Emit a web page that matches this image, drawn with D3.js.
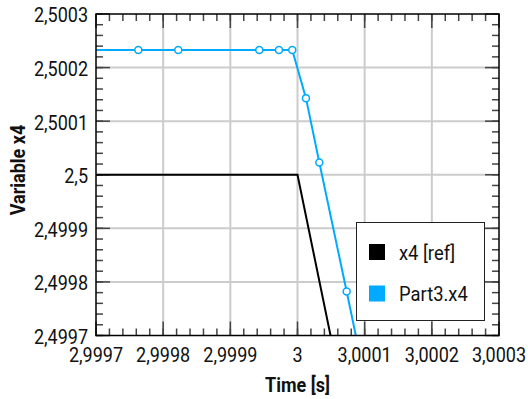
<!DOCTYPE html>
<html>
<head>
<meta charset="utf-8">
<script src="https://cdn.jsdelivr.net/npm/d3@7"></script>
<style>
  html, body { margin: 0; padding: 0; background: #fff; }
  svg { display: block; font-family: Roboto, "Noto Sans", sans-serif; }
</style>
</head>
<body>
<svg id="chart" width="528" height="399"></svg>
<script>
// ---- data ----
const seriesNames = ["x4 [ref]", "Part3.x4"];
const seriesColors = ["#000000", "#00aaff"];
const refTime = [2.9996, 3.0, 3.0001];
const refValue = [2.5, 2.5, 2.49939];
const partTime = [2.99969, 2.999763, 2.9998225, 2.9999431, 2.9999724, 2.9999922, 3.0000126, 3.0000325, 3.0000732, 3.0000935];
const partValue = [2.500233, 2.500233, 2.500233, 2.500233, 2.500233, 2.500233, 2.500143, 2.500023, 2.499782, 2.49966];
const xDomain = [2.9997, 3.0003];
const yDomain = [2.4997, 2.5003];
const xTitle = "Time [s]";
const yTitle = "Variable x4";

// ---- layout ----
const L = 96, T = 14, R = 499, B = 335.5;
const svg = d3.select("#chart");
const x = d3.scaleLinear().domain(xDomain).range([L, R]);
const y = d3.scaleLinear().domain(yDomain).range([B, T]);
const loc = d3.formatLocale({decimal: ",", thousands: ".", grouping: [3], currency: ["", ""]});
const fmt = loc.format(".5~f");

const xMajor = x.ticks(6), yMajor = y.ticks(6);
const xMinor = x.ticks(30), yMinor = y.ticks(30);

// condensed look: measure width at base size, then enlarge keeping width
function condense(sel, bigSize, factor) {
  sel.each(function () {
    const w = this.getComputedTextLength() * (factor || 1);
    d3.select(this).attr("font-size", bigSize).attr("textLength", w).attr("lengthAdjust", "spacingAndGlyphs");
  });
}

// grid
const grid = svg.append("g").attr("stroke", "#cccccc").attr("stroke-width", 2);
grid.selectAll(".gx").data(xMajor.slice(1, -1)).join("line")
  .attr("x1", d => x(d)).attr("x2", d => x(d)).attr("y1", T).attr("y2", B);
grid.selectAll(".gy").data(yMajor.slice(1, -1)).join("line")
  .attr("y1", d => y(d)).attr("y2", d => y(d)).attr("x1", L).attr("x2", R);

// ticks (inward on all sides)
const tk = svg.append("g").attr("stroke", "#444").attr("stroke-width", 1.5);
function vt(vals, len) {
  vals.forEach(d => {
    tk.append("line").attr("x1", x(d)).attr("x2", x(d)).attr("y1", B).attr("y2", B - len);
    tk.append("line").attr("x1", x(d)).attr("x2", x(d)).attr("y1", T).attr("y2", T + len);
  });
}
function ht(vals, len) {
  vals.forEach(d => {
    tk.append("line").attr("y1", y(d)).attr("y2", y(d)).attr("x1", L).attr("x2", L + len);
    tk.append("line").attr("y1", y(d)).attr("y2", y(d)).attr("x1", R).attr("x2", R - len);
  });
}
vt(xMinor, 7); ht(yMinor, 7);
vt(xMajor, 14); ht(yMajor, 14);

// clip
svg.append("defs").append("clipPath").attr("id", "clip")
  .append("rect").attr("x", L).attr("y", T).attr("width", R - L).attr("height", B - T);
const plot = svg.append("g").attr("clip-path", "url(#clip)");

const line = d3.line().x(d => x(d[0])).y(d => y(d[1]));
const refData = refTime.map((t, i) => [t, refValue[i]]);
const partData = partTime.map((t, i) => [t, partValue[i]]);

plot.append("path").datum(refData).attr("d", line)
  .attr("fill", "none").attr("stroke", seriesColors[0]).attr("stroke-width", 2);
plot.append("path").datum(partData).attr("d", line)
  .attr("fill", "none").attr("stroke", seriesColors[1]).attr("stroke-width", 2);
plot.selectAll(".pt").data(partData).join("circle")
  .attr("cx", d => x(d[0])).attr("cy", d => y(d[1])).attr("r", 3.5)
  .attr("fill", "#fff").attr("stroke", seriesColors[1]).attr("stroke-width", 1.5);

// frame
svg.append("rect").attr("x", L).attr("y", T).attr("width", R - L).attr("height", B - T)
  .attr("fill", "none").attr("stroke", "#000").attr("stroke-width", 1.5);

// tick labels
const xl = svg.append("g").selectAll("text").data(xMajor).join("text")
  .attr("x", d => x(d)).attr("y", B + 26.5).attr("text-anchor", "middle")
  .attr("font-size", 18).attr("fill", "#111").text(d => fmt(d));
condense(xl, 20);
const yl = svg.append("g").selectAll("text").data(yMajor).join("text")
  .attr("x", 88).attr("y", d => y(d) + 8.4).attr("text-anchor", "end")
  .attr("font-size", 18).attr("fill", "#111").text(d => fmt(d));
condense(yl, 20);

// titles
const xt = svg.append("text").attr("x", (L + R) / 2).attr("y", 392).attr("text-anchor", "middle")
  .attr("font-size", 18).attr("font-weight", "bold").attr("fill", "#111").text(xTitle);
condense(xt, 21);
const yt = svg.append("text").attr("transform", "translate(25,170) rotate(-90)").attr("text-anchor", "middle")
  .attr("font-size", 18).attr("font-weight", "bold").attr("fill", "#111").text(yTitle);
condense(yt, 21);

// legend
const lg = svg.append("g");
lg.append("rect").attr("x", 356.5).attr("y", 222.5).attr("width", 128).attr("height", 98)
  .attr("fill", "#fff").attr("stroke", "#222").attr("stroke-width", 1);
seriesNames.forEach((n, i) => {
  lg.append("rect").attr("x", 369).attr("y", 244 + i * 41.5).attr("width", 16).attr("height", 16)
    .attr("fill", seriesColors[i]);
  const t = lg.append("text").attr("x", 399).attr("y", 260 + i * 41).attr("font-size", 18)
    .attr("fill", "#111").text(n);
  condense(t, 20, 1.02);
});
</script>
</body>
</html>
